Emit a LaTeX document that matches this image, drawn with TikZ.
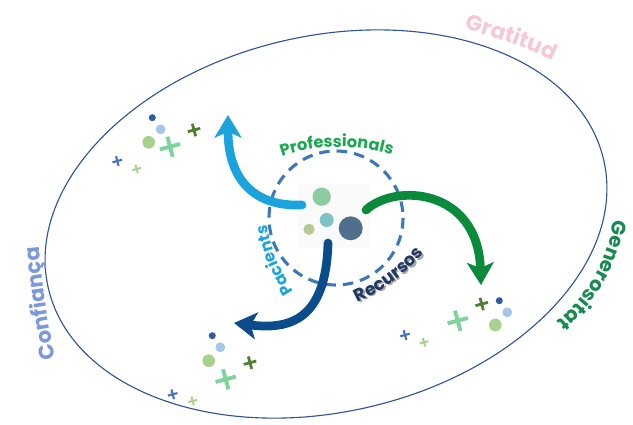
\documentclass[tikz,border=0pt]{standalone}
\usepackage{fontspec}
\setmainfont{Poppins}
\definecolor{ring}{HTML}{2F5597}
\definecolor{dashring}{HTML}{3A78B8}
\definecolor{profgreen}{HTML}{19A84E}
\definecolor{pacblue}{HTML}{1BA3DF}
\definecolor{recnavy}{HTML}{1F3864}
\definecolor{confblue}{HTML}{7B98DC}
\definecolor{genergreen}{HTML}{168A4F}
\definecolor{gratpink}{HTML}{F5C8D4}
\definecolor{arrowblue}{HTML}{1AA3DC}
\definecolor{arrowgreen}{HTML}{0C8A3B}
\definecolor{arrownavy}{HTML}{0A4C8C}
\definecolor{dotdark}{HTML}{2E5AA8}
\definecolor{dotlight}{HTML}{A7C7EA}
\definecolor{dotgreen}{HTML}{A9D18E}
\definecolor{plusmint}{HTML}{7FD49B}
\definecolor{plusolive}{HTML}{4F7F2F}
\definecolor{plusblue}{HTML}{4472C4}
\definecolor{coregreen}{HTML}{8DCC9E}
\definecolor{coreteal}{HTML}{7FC3C9}
\definecolor{coreolive}{HTML}{B9C993}
\definecolor{coreslate}{HTML}{4F6F8C}
\usetikzlibrary{arrows.meta, shapes.misc, decorations.text}

\begin{document}
\begin{tikzpicture}[x=0.025cm, y=-0.025cm,
  dot/.style={circle, fill=#1, draw=none, inner sep=0pt},
  plusmark/.style={cross out, draw=#1, inner sep=0pt, outer sep=0pt, rotate=60},
  swoosh/.style={line width=6.2pt, line cap=round, draw=#1, -{Stealth[length=16pt, width=19pt, inset=4pt]}},
  curvetext/.style={decorate, decoration={text along path, text align=center, text={#1}}},
]
\useasboundingbox (0,0) rectangle (633,424);

% outer ring and inner dashed ring
\draw[ring, line width=0.8pt, rotate around={13:(326,224)}] (326,224) ellipse [x radius=285, y radius=188];
\node[draw=none, fill=black!2, minimum width=51pt, minimum height=45pt] (core) at (334,216) {};
\draw[dashring, line width=2.2pt, dash pattern=on 7.5pt off 5pt] (336,218) circle (67);

% centre dots
\node[dot=coregreen, minimum size=13pt] (cgreen) at (321.7,196.7) {};
\node[dot=coreteal, minimum size=10pt] (cteal) at (326.7,220) {};
\node[dot=coreolive, minimum size=8pt] (colive) at (309,229.3) {};
\node[dot=coreslate, minimum size=17pt] (cslate) at (350.7,228.3) {};

% swooshes
\coordinate (prof-start) at (302,205);
\coordinate (prof-end) at (228,115);
\coordinate (gen-start) at (366,210);
\coordinate (gen-end) at (481,285);
\coordinate (pac-start) at (328,243);
\coordinate (pac-end) at (234,323);
\draw[swoosh=arrowblue] (prof-start) .. controls (250,207) and (228,175) .. (prof-end);
\draw[swoosh=arrowgreen] (gen-start) .. controls (395,183) and (478,188) .. (gen-end);
\draw[swoosh=arrownavy] (pac-start) .. controls (326,320) and (290,330) .. (pac-end);

% inner labels
\path[curvetext={|\fontsize{11.5}{13}\selectfont\bfseries\color{profgreen}|Professionals}]
  (271.4,160.3) arc[start angle=-112, end angle=-70, radius=183];
\path[curvetext={|\fontsize{11.5}{13}\selectfont\bfseries\color{pacblue}|Pacients}]
  (302,304) .. controls (281,272) and (268,250) .. (266,210);
\path[curvetext={|\fontsize{12.5}{14}\selectfont\bfseries\color{black!35}|Recursos}]
  (353.5,306.5) .. controls (381.5,293.5) and (406.5,279.5) .. (429.5,249.5);
\path[curvetext={|\fontsize{12.5}{14}\selectfont\bfseries\color{recnavy}|Recursos}]
  (352,305) .. controls (380,292) and (405,278) .. (428,248);

% outer labels
\path[curvetext={|\fontsize{15}{17}\selectfont\bfseries\color{confblue}|Confiança}]
  (58,368) .. controls (48,325) and (42,285) .. (38,236);
\path[curvetext={|\fontsize{14}{16}\selectfont\bfseries\color{genergreen}|Generositat}]
  (616,198) .. controls (613,255) and (590,302) .. (538,334);
\path[curvetext={|\fontsize{15.5}{17}\selectfont\bfseries\color{gratpink}|Gratitud}]
  (454,26) .. controls (488,36) and (525,45) .. (562,66);

% sparkles top left
\node[dot=dotdark, minimum size=5pt] (dk1) at (152.3,117.7) {};
\node[dot=dotlight, minimum size=7pt] (lb1) at (160.7,129.3) {};
\node[dot=dotgreen, minimum size=9pt] (gr1) at (148.7,142.3) {};
\node[plusmark=plusmint, line width=2.8pt, minimum size=10.5pt] (bp1) at (170,146.7) {};
\node[plusmark=plusolive, line width=2pt, minimum size=6.5pt] (op1) at (194,130) {};
\node[plusmark=plusblue, line width=1.5pt, minimum size=5pt] (sp1) at (117.3,161) {};
\node[plusmark=dotgreen, line width=1.4pt, minimum size=4.5pt] (lp1) at (136.7,169) {};

% sparkles right
\node[dot=dotdark, minimum size=5pt] (dk2) at (499.3,300.7) {};
\node[dot=dotlight, minimum size=7pt] (lb2) at (507.3,312.3) {};
\node[dot=dotgreen, minimum size=9pt] (gr2) at (495.3,325) {};
\node[plusmark=plusmint, line width=2.8pt, minimum size=10.5pt] (bp2) at (457.7,320.7) {};
\node[plusmark=plusolive, line width=2pt, minimum size=6.5pt] (op2) at (481.7,304) {};
\node[plusmark=plusblue, line width=1.5pt, minimum size=5pt] (sp2) at (405,335) {};
\node[plusmark=dotgreen, line width=1.4pt, minimum size=4.5pt] (lp2) at (424,342.3) {};

% sparkles bottom left
\node[dot=dotdark, minimum size=5pt] (dk3) at (212.3,335.7) {};
\node[dot=dotlight, minimum size=7pt] (lb3) at (220.3,347.3) {};
\node[dot=dotgreen, minimum size=9pt] (gr3) at (208.7,360.7) {};
\node[plusmark=plusmint, line width=2.8pt, minimum size=10.5pt] (bp3) at (225.7,379.3) {};
\node[plusmark=plusolive, line width=2pt, minimum size=6.5pt] (op3) at (250,362.7) {};
\node[plusmark=plusblue, line width=1.5pt, minimum size=5pt] (sp3) at (172.7,394.3) {};
\node[plusmark=dotgreen, line width=1.4pt, minimum size=4.5pt] (lp3) at (192.7,401) {};

\end{tikzpicture}
\end{document}
